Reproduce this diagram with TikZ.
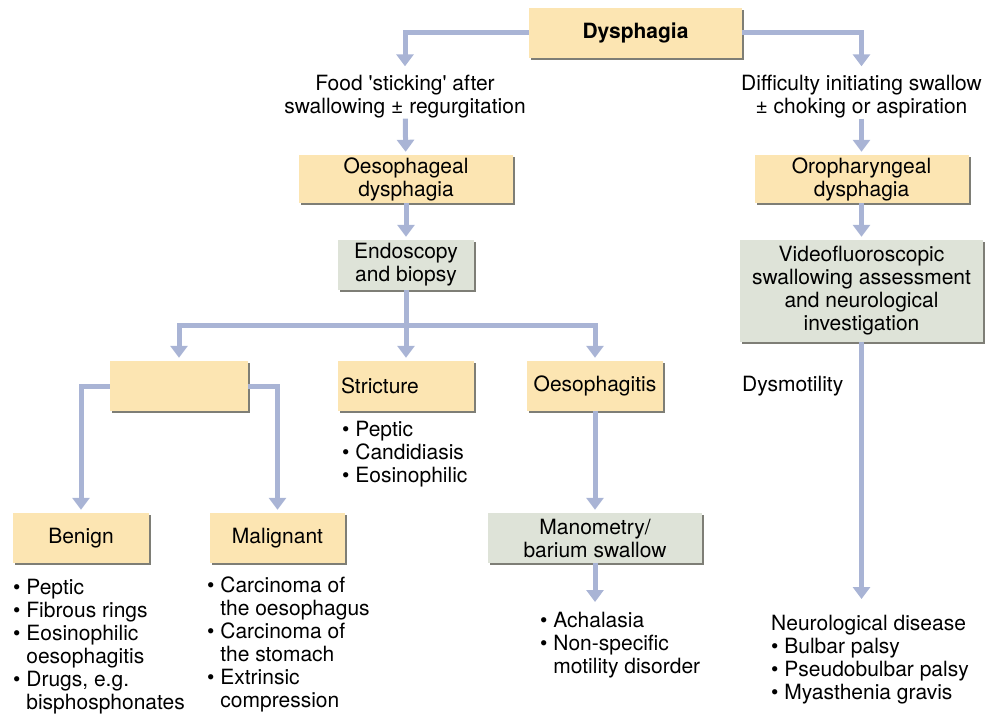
\documentclass[tikz,border=0pt]{standalone}
\usepackage{fontspec}
\setmainfont{TeX Gyre Heros}[Ligatures=TeXOff]
\usepackage{xcolor}
\usetikzlibrary{arrows.meta, positioning, shadows}

\definecolor{boxyellow}{HTML}{FCE5B2}
\definecolor{boxgreen}{HTML}{DEE3D8}
\definecolor{linkblue}{HTML}{A9B4D5}
\definecolor{shadowgrey}{HTML}{7E7E76}

\newcommand{\bulletgap}{\phantom{\textbullet\ }}

\begin{document}
\begin{tikzpicture}[x=1pt, y=-1pt, font=\fontsize{21}{23}\selectfont,
    box/.style={fill=boxyellow, minimum height=50pt, inner sep=2pt, align=center,
        general shadow={fill=shadowgrey, shadow xshift=2pt, shadow yshift=-2pt}},
    testbox/.style={box, fill=boxgreen},
    caption/.style={align=center, inner sep=0pt},
    list/.style={align=left, inner sep=0pt, anchor=north west},
    link/.style={draw=linkblue, line width=5pt, line join=miter,
        -{Triangle[width=17pt, length=12pt]}, shorten >=3pt}]
        \useasboundingbox (0,0) rectangle (995,719);

        % top
        \node[box, minimum width=213pt, font=\fontsize{21}{23}\selectfont\bfseries] (dys) at (635.5,33) {Dysphagia};
        \node[caption] (food) at (405,97) {Food 'sticking' after\\swallowing ± regurgitation};
        \node[caption] (diff) at (861.5,97) {Difficulty initiating swallow\\± choking or aspiration};

        % oesophageal side
        \node[box, minimum width=214pt, minimum height=48pt] (oesd) at (406,179) {Oesophageal\\dysphagia};
        \node[testbox, minimum width=136pt] (endo) at (406,265) {Endoscopy\\and biopsy};
        \coordinate (split) at (406,325);
        \node[box, minimum width=138pt] (cause) at (179,386) {};
        \node[box, minimum width=136pt, text width=130pt, align=left] (strict) at (406,386) {Stricture};
        \node[box, minimum width=136pt] (oesoph) at (595,386) {Oesophagitis};
        \node[list] (strictlist) at (342,421) {\textbullet\ Peptic\\\textbullet\ Candidiasis\\\textbullet\ Eosinophilic};
        \node[box, minimum width=136pt] (benign) at (81,538) {Benign};
        \node[box, minimum width=135pt] (malig) at (277.5,538) {Malignant};
        \node[testbox, minimum width=214pt] (mano) at (595,538) {Manometry/\\barium swallow};
        \node[list] (benignlist) at (13,579) {\textbullet\ Peptic\\\textbullet\ Fibrous rings\\\textbullet\ Eosinophilic\\\bulletgap oesophagitis\\\textbullet\ Drugs, e.g.\\\bulletgap bisphosphonates};
        \node[list] (maliglist) at (207,577) {\textbullet\ Carcinoma of\\\bulletgap the oesophagus\\\textbullet\ Carcinoma of\\\bulletgap the stomach\\\textbullet\ Extrinsic\\\bulletgap compression};
        \node[list] (manolist) at (540,612) {\textbullet\ Achalasia\\\textbullet\ Non-specific\\\bulletgap motility disorder};

        % oropharyngeal side
        \node[box, minimum width=214pt, minimum height=48pt] (orod) at (861.5,179) {Oropharyngeal\\dysphagia};
        \node[testbox, minimum width=243pt, minimum height=102pt] (video) at (861.5,291) {Videofluoroscopic\\swallowing assessment\\and neurological\\investigation};
        \node[anchor=west, inner sep=0pt] (dysmot) at (742,386) {Dysmotility};
        \node[list] (neurolist) at (771,615) {Neurological disease\\\textbullet\ Bulbar palsy\\\textbullet\ Pseudobulbar palsy\\\textbullet\ Myasthenia gravis};

        \draw[link, shorten >=9pt] (dys.west) -| (food);
        \draw[link, shorten >=9pt] (dys.east) -| (diff);
        \draw[link] (food) -- (oesd);
        \draw[link] (diff) -- (orod);
        \draw[link] (oesd) -- (endo);
        \draw[link] (orod) -- (video);
        \draw[link] (endo) -- (strict);
        \draw[link] (split) -| (cause);
        \draw[link] (split) -| (oesoph);
        \draw[link] (cause.west) -| (benign);
        \draw[link] (cause.east) -| (malig);
        \draw[link] (oesoph) -- (mano);
        \draw[link, shorten >=10pt] (mano) -- (mano.south |- manolist.north);
        \draw[link, shorten >=16pt] (video) -- (video.south |- neurolist.north);
\end{tikzpicture}
\end{document}
